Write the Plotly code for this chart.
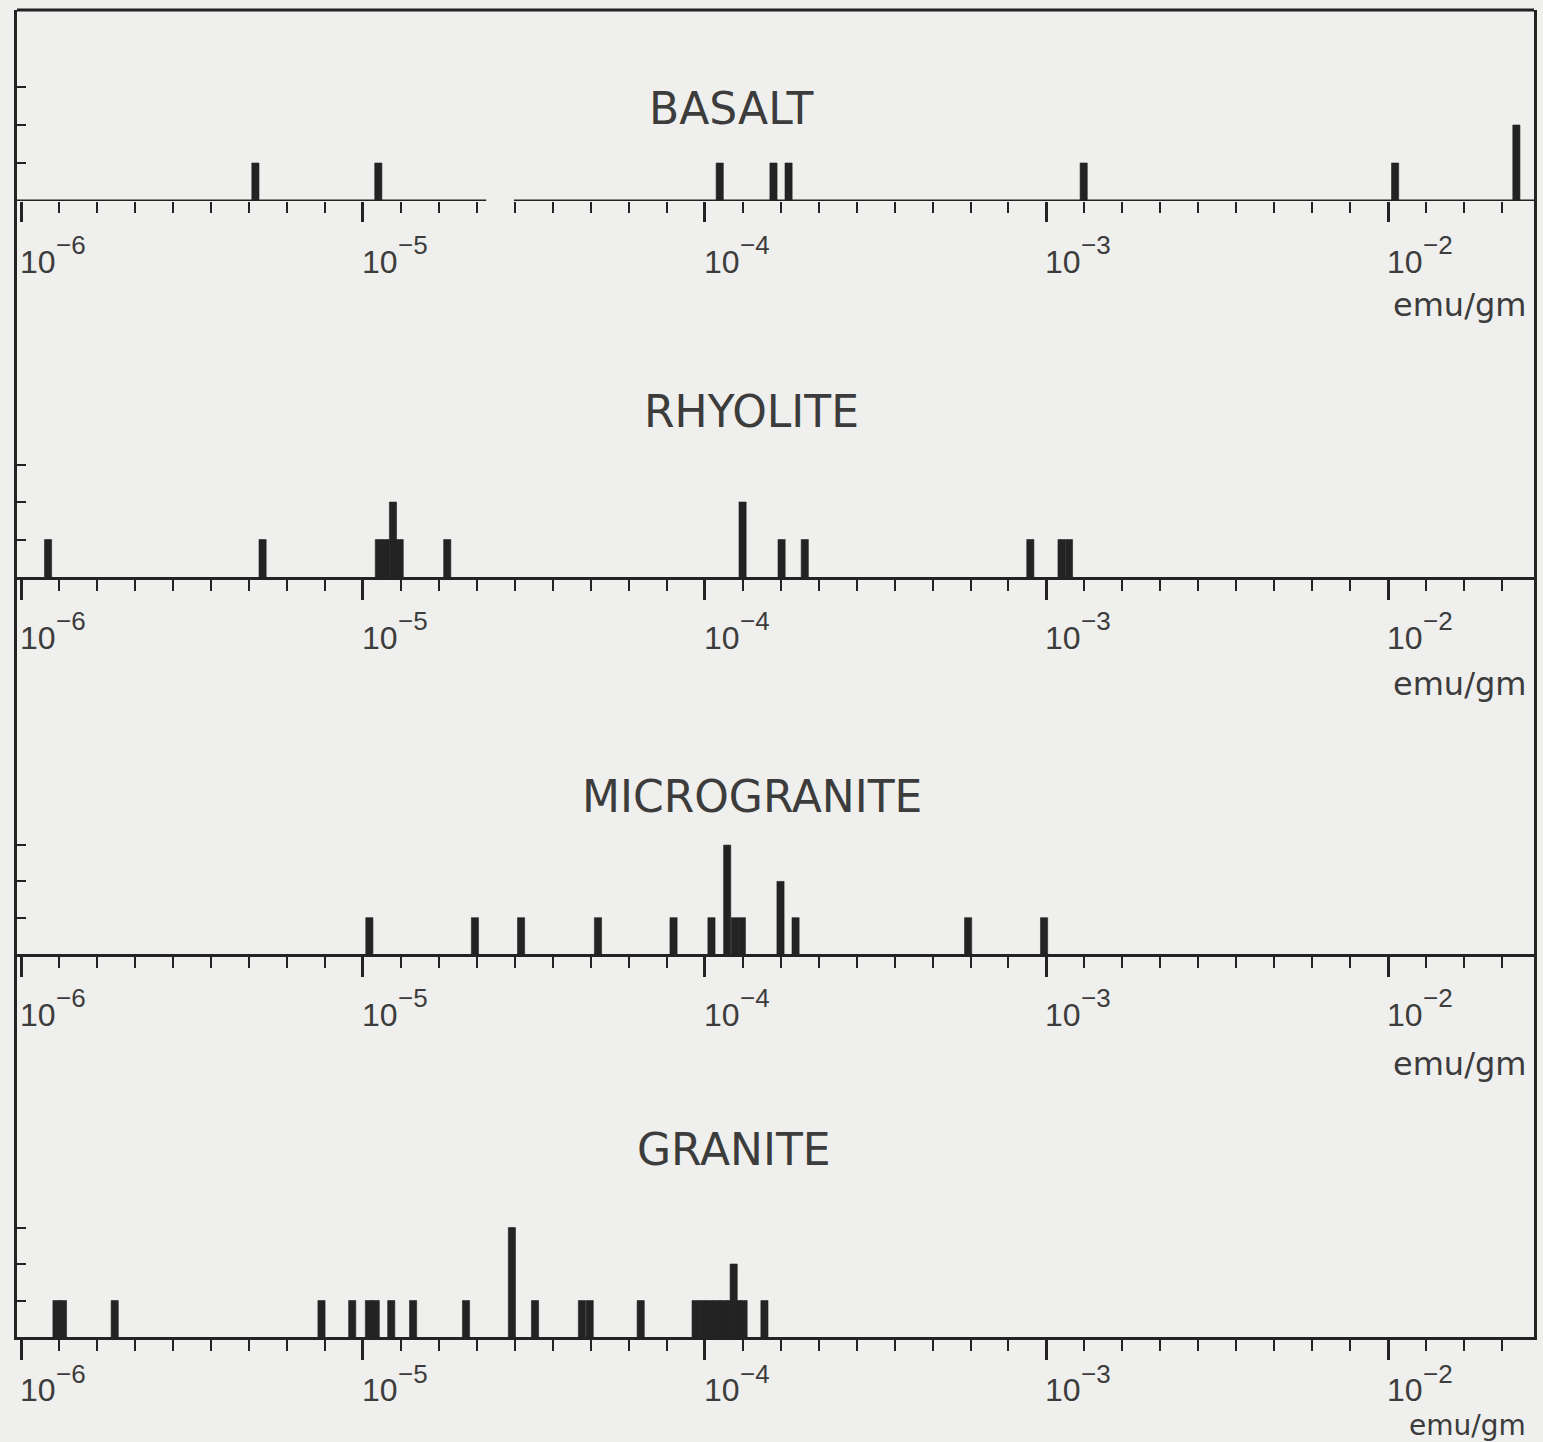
import numpy as np
import plotly.graph_objects as go

# Magnetization values (emu/gm) and number of samples per value, by rock type
rock_names = ["BASALT", "RHYOLITE", "MICROGRANITE", "GRANITE"]

basalt_values = [4.85e-6, 1.11e-5, 1.107e-4, 1.59e-4, 1.76e-4, 1.285e-3, 1.047e-2, 2.37e-2]
basalt_counts = [1, 1, 1, 1, 1, 1, 1, 2]

rhyolite_values = [1.20e-6, 5.09e-6, 1.114e-5, 1.167e-5, 1.225e-5, 1.282e-5, 1.766e-5,
                   1.291e-4, 1.679e-4, 1.963e-4, 8.97e-4, 1.107e-3, 1.164e-3]
rhyolite_counts = [1, 1, 1, 1, 2, 1, 1, 2, 1, 1, 1, 1, 1]

microgranite_values = [1.045e-5, 2.128e-5, 2.904e-5, 4.875e-5, 8.11e-5, 1.047e-4, 1.164e-4,
                       1.225e-4, 1.285e-4, 1.667e-4, 1.845e-4, 5.90e-4, 9.84e-4]
microgranite_counts = [1, 1, 1, 1, 1, 1, 3, 1, 1, 2, 1, 1, 1]

granite_values = [1.27e-6, 1.327e-6, 1.88e-6, 7.57e-6, 9.31e-6, 1.042e-5, 1.091e-5, 1.211e-5,
                  1.403e-5, 2.004e-5, 2.73e-5, 3.19e-5, 4.375e-5, 4.61e-5, 6.50e-5,
                  9.41e-5, 9.87e-5, 1.034e-4, 1.084e-4, 1.136e-4, 1.191e-4, 1.248e-4, 1.300e-4,
                  1.216e-4, 1.496e-4]
granite_counts = [1, 1, 1, 1, 1, 1, 1, 1, 1, 1, 3, 1, 1, 1, 1,
                  1, 1, 1, 1, 1, 1, 1, 1, 2, 1]

decade_exponents = [-6, -5, -4, -3, -2]
count_ticks = [1, 2, 3]
unit_label = "emu/gm"

series = [
    (basalt_values, basalt_counts),
    (rhyolite_values, rhyolite_counts),
    (microgranite_values, microgranite_counts),
    (granite_values, granite_counts),
]

# ---- styling / geometry -------------------------------------------------
W, H = 1543, 1442
ML, MR, MT, MB = 17, 6, 10, 105
PLOT_W = W - ML - MR
PLOT_H = H - MT - MB
INK = "#232323"
TEXT = "#3c3c3c"
BG = "#efefed"
FONT = "DejaVu Sans"
LABEL_FONT = "Liberation Sans Narrow, Liberation Sans, DejaVu Sans"

X_RANGE = [-6.0117, -1.5737]        # log10(emu/gm)
BAR_W = 0.021                         # bar width in decades

# panel tops / baselines in page pixels
panel_px = [(10, 201), (201, 577), (577, 954), (954, 1337)]
unit_px = [38.0, 37.5, 36.3, 36.5]    # pixels per sample count

# per-panel text offsets below the baseline (mantissa, exponent, unit label, unit size)
label_offsets = [(-61, -44, -104, 32), (-61, -44, -107, 32),
                 (-61, -44, -110, 32), (-53, -37, -88, 28)]


def frac(ypx):
    return (H - MB - ypx) / PLOT_H


fig = go.Figure()
layout = dict(
    width=W, height=H,
    margin=dict(l=ML, r=MR, t=MT, b=MB),
    paper_bgcolor=BG, plot_bgcolor=BG,
    barmode="overlay", showlegend=False,
    font=dict(family=FONT, color=TEXT),
)

annotations = []
shapes = []

for i, ((vals, cnts), (top, base)) in enumerate(zip(series, panel_px)):
    n = "" if i == 0 else str(i + 1)
    xa, ya = "x" + n, "y" + n
    fig.add_trace(go.Bar(
        x=np.log10(vals), y=cnts, width=BAR_W,
        marker=dict(color=INK, line=dict(color=INK, width=0.6)),
        xaxis=xa, yaxis=ya,
    ))
    yrange = (base - top) / unit_px[i]
    layout["xaxis" + n] = dict(
        range=X_RANGE, domain=[0, 1], anchor=ya,
        tickmode="linear", tick0=-6, dtick=1,
        ticks="outside", ticklen=20, tickwidth=2.5, tickcolor=INK,
        minor=dict(tickmode="linear", tick0=-6, dtick=1 / 9, ticks="outside",
                   ticklen=11, tickwidth=2.2, tickcolor=INK, showgrid=False),
        showticklabels=False, showgrid=False, zeroline=False,
        showline=(i != 0), linecolor=INK, linewidth=3,
    )
    layout["yaxis" + n] = dict(
        range=[0, yrange], domain=[frac(base), frac(top)], anchor=xa,
        tickmode="array", tickvals=count_ticks,
        ticks="inside", ticklen=9, tickwidth=2.2, tickcolor=INK,
        showticklabels=False, showgrid=False, zeroline=False,
        showline=True, mirror=True, linecolor=INK, linewidth=3,
    )
    off_m, off_e, off_u, unit_size = label_offsets[i]
    # decade labels: mantissa "10" plus a raised exponent, right of each major tick
    for e in decade_exponents:
        annotations.append(dict(
            x=e, xref=xa, y=0, yref=ya + " domain",
            text="10", xanchor="left", yanchor="middle", xshift=-3, yshift=off_m,
            showarrow=False, font=dict(size=32, color=TEXT, family=LABEL_FONT),
        ))
        annotations.append(dict(
            x=e, xref=xa, y=0, yref=ya + " domain",
            text="\u2212%d" % abs(e), xanchor="left", yanchor="middle",
            xshift=33, yshift=off_e,
            showarrow=False, font=dict(size=26, color=TEXT, family=LABEL_FONT),
        ))
    # unit label at the right end of each axis
    annotations.append(dict(
        x=(1531 - ML) / PLOT_W, xref="paper", y=0, yref=ya + " domain",
        text=unit_label, xanchor="right", yanchor="middle", yshift=off_u,
        showarrow=False, font=dict(size=unit_size, color=TEXT, family=FONT),
    ))

# rock-type titles
title_px = [(733, 109), (753, 412), (753, 796), (735, 1149)]
for name, (cx, cy) in zip(rock_names, title_px):
    annotations.append(dict(
        x=(cx - ML) / PLOT_W, xref="paper", y=frac(cy), yref="paper",
        text=name, xanchor="center", yanchor="middle", showarrow=False,
        font=dict(size=44, color=TEXT, family=FONT),
    ))

# top frame line and the broken basalt baseline
shapes.append(dict(type="line", xref="paper", yref="paper", x0=0, x1=1, y0=1, y1=1,
                   line=dict(color=INK, width=3)))
gap = (-4.639, -4.558)
for x0, x1 in [(X_RANGE[0], gap[0]), (gap[1], X_RANGE[1])]:
    shapes.append(dict(type="line", xref="x", yref="y", x0=x0, x1=x1, y0=0, y1=0,
                       line=dict(color=INK, width=3)))

layout["annotations"] = annotations
layout["shapes"] = shapes
fig.update_layout(**layout)
fig.write_html("out.html")
